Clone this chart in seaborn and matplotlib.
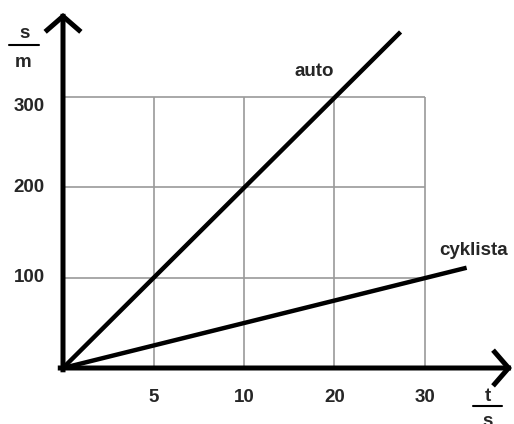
import numpy as np
import pandas as pd
import seaborn as sns
import matplotlib.pyplot as plt

# grid columns are evenly spaced, labelled 5, 10, 20, 30
x_pos = [1, 2, 3, 4]
x_labels = ['5', '10', '20', '30']
y_ticks = [100, 200, 300]
y_labels = ['100', '200', '300']

# lines, in grid-column units on x
auto_x = [0, 3.73]
auto_y = [0, 372]
cykl_x = [0, 4.46]
cykl_y = [0, 111]

sns.set_style('white')
plt.rcParams['font.family'] = ['Liberation Sans', 'DejaVu Sans']

fig = plt.figure(figsize=(5.14, 4.24), dpi=100)
ax = fig.add_axes([0, 0, 1, 1])
ax.set_xlim(-63 / 90.5, (514 - 63) / 90.5)
ax.set_ylim(-(424 - 368) / 0.9033, 368 / 0.9033)
ax.axis('off')

# grid
ax.vlines(x_pos, 0, max(y_ticks), color='#9a9a9a', lw=1.2, zorder=1)
ax.hlines(y_ticks, 0, max(x_pos), color='#9a9a9a', lw=1.2, zorder=1)

df = pd.concat([
    pd.DataFrame({'t': auto_x, 's': auto_y, 'k': 'auto'}),
    pd.DataFrame({'t': cykl_x, 's': cykl_y, 'k': 'cyklista'}),
])
sns.lineplot(data=df, x='t', y='s', units='k', estimator=None, color='black',
             lw=3.2, ax=ax, zorder=3, solid_capstyle='butt')

# axes arrows
arrow = dict(arrowstyle='->,head_length=1.0,head_width=1.15', lw=3.6, color='black',
             shrinkA=0, shrinkB=0, joinstyle='miter', capstyle='projecting')
ax.annotate('', xy=(0, 393), xytext=(0, -2), arrowprops=arrow, zorder=4)
ax.annotate('', xy=(4.96, 0), xytext=(-0.03, 0), arrowprops=arrow, zorder=4)

fs = 13.5
for x, lab in zip(x_pos, x_labels):
    ax.text(x, -33, lab, ha='center', va='center', fontsize=fs, fontweight='bold')
for y, lab in zip(y_ticks, y_labels):
    yy = y - 10 if y == 300 else y
    ax.text(-0.2, yy, lab, ha='right', va='center', fontsize=fs, fontweight='bold')

ax.text(2.78, 328, 'auto', ha='center', va='center', fontsize=fs, fontweight='bold')
ax.text(4.54, 130, 'cyklista', ha='center', va='center', fontsize=fs, fontweight='bold')

# units as fractions
ax.text(-0.42, 370, 's', ha='center', va='center', fontsize=fs, fontweight='bold')
ax.plot([-0.6, -0.27], [358, 358], color='black', lw=1.5)
ax.text(-0.44, 338, 'm', ha='center', va='center', fontsize=fs, fontweight='bold')

ax.text(4.69, -31, 't', ha='center', va='center', fontsize=fs, fontweight='bold')
ax.plot([4.53, 4.85], [-42, -42], color='black', lw=1.5)
ax.text(4.69, -59, 's', ha='center', va='center', fontsize=fs, fontweight='bold')

fig.savefig('out.png', dpi=100)
